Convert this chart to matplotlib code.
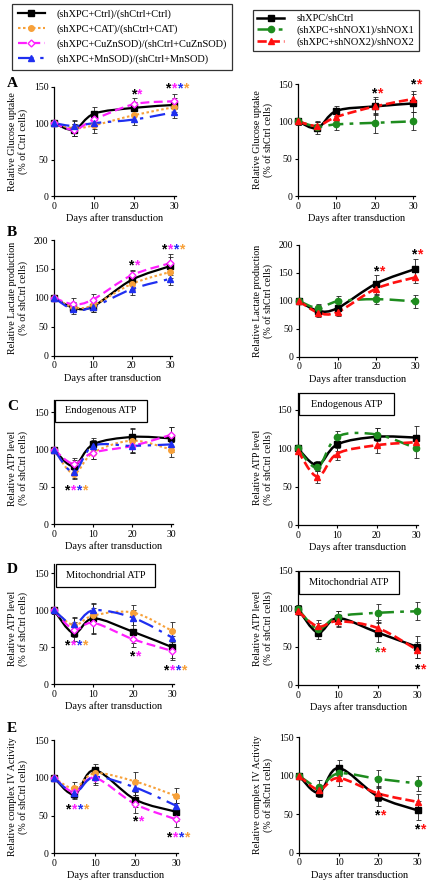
import numpy as np
import matplotlib
matplotlib.use("Agg")
import matplotlib.pyplot as plt
from matplotlib.path import Path
from matplotlib.patches import PathPatch, Rectangle
from matplotlib.lines import Line2D
from matplotlib.legend_handler import HandlerLine2D

plt.rcParams['font.family'] = ['Liberation Serif', 'DejaVu Serif']

days = [0, 5, 10, 20, 30]

# A - glucose uptake
glu_ctrl = [100, 91, 113, 121, 125]
glu_cat = [100, 93, 97, 111, 122]
glu_cuzn = [100, 91, 105, 126, 130]
glu_mn = [100, 96, 100, 105, 115]
glu_ctrl_err = [3, 8, 9, 8, 10]
glu_cat_err = [3, 10, 10, 10, 10]
glu_cuzn_err = [3, 8, 8, 8, 10]
glu_mn_err = [3, 8, 8, 7, 8]
glu_sh = [100, 91, 114, 120, 124]
glu_nox1 = [100, 93, 96, 98, 100]
glu_nox2 = [100, 94, 106, 120, 130]
glu_sh_err = [5, 8, 7, 12, 12]
glu_nox1_err = [5, 6, 7, 13, 12]
glu_nox2_err = [5, 7, 6, 10, 10]

# B - lactate production
lac_ctrl = [100, 83, 85, 131, 155]
lac_cat = [100, 84, 87, 124, 145]
lac_cuzn = [100, 89, 97, 139, 160]
lac_mn = [100, 80, 84, 115, 133]
lac_ctrl_err = [3, 8, 10, 15, 15]
lac_cat_err = [3, 8, 8, 10, 10]
lac_cuzn_err = [3, 10, 10, 10, 15]
lac_mn_err = [3, 8, 8, 10, 10]
lac_sh = [100, 82, 87, 131, 157]
lac_nox1 = [100, 87, 99, 103, 99]
lac_nox2 = [100, 79, 80, 122, 142]
lac_sh_err = [5, 10, 10, 15, 18]
lac_nox1_err = [5, 8, 10, 8, 12]
lac_nox2_err = [5, 8, 8, 10, 10]

# C - endogenous ATP
end_ctrl = [100, 78, 107, 117, 115]
end_cat = [100, 68, 96, 112, 100]
end_cuzn = [100, 81, 96, 105, 120]
end_mn = [100, 70, 105, 105, 107]
end_ctrl_err = [3, 8, 8, 12, 15]
end_cat_err = [3, 8, 8, 15, 10]
end_cuzn_err = [3, 8, 8, 10, 10]
end_mn_err = [3, 8, 8, 10, 10]
end_sh = [100, 78, 105, 115, 114]
end_nox1 = [100, 75, 115, 118, 100]
end_nox2 = [97, 63, 93, 104, 108]
end_sh_err = [3, 6, 8, 12, 15]
end_nox1_err = [3, 5, 8, 8, 12]
end_nox2_err = [3, 8, 8, 10, 10]

# D - mitochondrial ATP
mit_ctrl = [100, 69, 89, 71, 50]
mit_cat = [100, 80, 93, 97, 72]
mit_cuzn = [100, 74, 83, 61, 45]
mit_mn = [100, 81, 100, 90, 63]
mit_ctrl_err = [5, 10, 20, 15, 15]
mit_cat_err = [5, 10, 10, 10, 12]
mit_cuzn_err = [5, 10, 15, 10, 12]
mit_mn_err = [5, 10, 10, 10, 10]
mit_sh = [100, 69, 88, 69, 50]
mit_nox1 = [100, 74, 90, 95, 97]
mit_nox2 = [97, 77, 84, 75, 46]
mit_sh_err = [5, 8, 10, 12, 15]
mit_nox1_err = [5, 8, 8, 12, 12]
mit_nox2_err = [5, 8, 8, 10, 10]

# E - complex IV activity
cox_ctrl = [100, 78, 110, 71, 55]
cox_cat = [100, 86, 106, 95, 76]
cox_cuzn = [100, 81, 100, 65, 45]
cox_mn = [100, 80, 101, 87, 63]
cox_ctrl_err = [3, 6, 8, 10, 12]
cox_cat_err = [3, 8, 8, 12, 10]
cox_cuzn_err = [3, 8, 10, 12, 10]
cox_mn_err = [3, 6, 8, 10, 10]
cox_sh = [100, 78, 110, 73, 55]
cox_nox1 = [100, 86, 103, 96, 90]
cox_nox2 = [100, 82, 97, 77, 66]
cox_sh_err = [3, 6, 10, 12, 12]
cox_nox1_err = [3, 8, 8, 12, 10]
cox_nox2_err = [3, 6, 10, 10, 10]

left_labels = ['(shXPC+Ctrl)/(shCtrl+Ctrl)', '(shXPC+CAT)/(shCtrl+CAT)',
               '(shXPC+CuZnSOD)/(shCtrl+CuZnSOD)', '(shXPC+MnSOD)/(shCtrl+MnSOD)']
right_labels = ['shXPC/shCtrl', '(shXPC+shNOX1)/shNOX1', '(shXPC+shNOX2)/shNOX2']

BLK, ORG, MAG, BLU, GRN, RED = 'black', '#f7a13a', '#ff1fff', '#1f2ff0', '#1e8c1e', '#ff1010'

STY = {
    'ctrl': dict(color=BLK, ls='-', lw=1.6, marker='s', ms=4, mfc=BLK),
    'cat': dict(color=ORG, ls=(0, (1.2, 1.2)), lw=1.5, marker='o', ms=4, mfc=ORG),
    'cuzn': dict(color=MAG, ls=(0, (4, 2)), lw=1.6, marker='D', ms=3.5, mfc='white'),
    'mn': dict(color=BLU, ls=(0, (7, 3, 1.5, 3)), lw=1.6, marker='^', ms=4.5, mfc=BLU),
    'sh': dict(color=BLK, ls='-', lw=1.8, marker='s', ms=4.5, mfc=BLK),
    'nox1': dict(color=GRN, ls=(0, (6, 2.5, 1.5, 2.5)), lw=1.8, marker='o', ms=4.5, mfc=GRN),
    'nox2': dict(color=RED, ls=(0, (3.5, 1.5)), lw=1.9, marker='^', ms=4.5, mfc=RED),
}

W, H = 434, 886
fig = plt.figure(figsize=(W / 100, H / 100), dpi=100)


def rect(l, b, r, t):
    return [l / W, 1 - b / H, (r - l) / W, (b - t) / H]


def smooth(ax, x, y, s):
    # smoothed line like the spreadsheet charts (bezier through the points)
    p = np.column_stack([x, y]).astype(float)
    ext = np.vstack([p[0], p, p[-1]])
    verts, codes = [p[0]], [Path.MOVETO]
    for i in range(len(p) - 1):
        c1 = ext[i + 1] + (ext[i + 2] - ext[i]) / 6
        c2 = ext[i + 2] - (ext[i + 3] - ext[i + 1]) / 6
        verts += [c1, c2, p[i + 1]]
        codes += [Path.CURVE4] * 3
    ax.add_patch(PathPatch(Path(verts, codes), fill=False, edgecolor=s['color'],
                           lw=s['lw'], linestyle=s['ls'], capstyle='butt',
                           transform=ax.transData, zorder=3, clip_on=False))


def draw(ax, series, ylim, yticks, boxinfo=None):
    for y, e, key in series:
        ax.errorbar(days, y, yerr=e, fmt='none', ecolor='#222222', elinewidth=0.6,
                    capsize=1.8, capthick=0.6, zorder=2, clip_on=False)
    for y, e, key in series:
        s = STY[key]
        smooth(ax, days, y, s)
        ax.plot(days, y, ls='none', marker=s['marker'], ms=s['ms'], color=s['color'],
                mfc=s['mfc'], mec=s['color'], mew=1, zorder=4, clip_on=False)
    ax.set_xlim(0, 30.4)
    ax.set_ylim(*ylim)
    ax.set_xticks([0, 10, 20, 30])
    ax.set_yticks(yticks)
    for sp in ['top', 'right']:
        ax.spines[sp].set_visible(False)
    for sp in ['left', 'bottom']:
        ax.spines[sp].set_linewidth(0.9)
    ax.tick_params(direction='out', length=2.5, width=0.8, labelsize=7, pad=1.5)
    ax.set_xlabel('Days after transduction', fontsize=7.5, labelpad=2)
    if boxinfo:
        txt, x0, x1, y0, y1 = boxinfo
        ax.add_patch(Rectangle((x0, y0), x1 - x0, y1 - y0, fill=False, ec='black',
                               lw=0.9, clip_on=False, zorder=5))
        ax.text((x0 + x1) / 2, (y0 + y1) / 2, txt, ha='center', va='center',
                fontsize=7.5, zorder=6)


def stars(ax, x, y, cols):
    n = len(cols)
    for i, c in enumerate(cols):
        ax.annotate('*', (x, y), xytext=(1.4 + (i - (n - 1) / 2) * 4.3, -4.5),
                    textcoords='offset points', ha='center', va='baseline',
                    color=c, fontsize=10, family='Liberation Sans',
                    fontweight='bold', annotation_clip=False, zorder=7)


def ylab(xpx, ax, ytop, text):
    y0, y1 = ax.get_ylim()
    pos = ax.get_position()
    yc = pos.y0 + pos.height * (ytop / 2 - y0) / (y1 - y0)
    fig.text(xpx / W, yc, text, rotation=90, ha='center', va='center',
             fontsize=7.2, multialignment='center', linespacing=1.25)


L4 = [BLK, MAG, BLU, ORG]

# ---- A ----
ax = fig.add_axes(rect(54, 196, 176, 86.7))
draw(ax, [(glu_ctrl, glu_ctrl_err, 'ctrl'), (glu_cat, glu_cat_err, 'cat'),
          (glu_cuzn, glu_cuzn_err, 'cuzn'), (glu_mn, glu_mn_err, 'mn')],
     (0, 150), [0, 50, 100, 150])
stars(ax, 20, 143, [BLK, MAG])
stars(ax, 30, 150, L4)
ylab(18, ax, 150, 'Relative Glucose uptake\n(% of Ctrl cells)')

ax = fig.add_axes(rect(298, 196, 415, 84))
draw(ax, [(glu_sh, glu_sh_err, 'sh'), (glu_nox1, glu_nox1_err, 'nox1'),
          (glu_nox2, glu_nox2_err, 'nox2')], (0, 150), [0, 50, 100, 150])
stars(ax, 20, 141, [BLK, RED])
stars(ax, 30, 152, [BLK, RED])
ylab(263, ax, 150, 'Relative Glucose uptake\n(% of shCtrl cells)')

# ---- B ----
ax = fig.add_axes(rect(54, 355.7, 172, 240))
draw(ax, [(lac_ctrl, lac_ctrl_err, 'ctrl'), (lac_cat, lac_cat_err, 'cat'),
          (lac_cuzn, lac_cuzn_err, 'cuzn'), (lac_mn, lac_mn_err, 'mn')],
     (0, 200), [0, 50, 100, 150, 200])
stars(ax, 20, 160, [BLK, MAG])
stars(ax, 30, 187, L4)
ylab(18, ax, 200, 'Relative Lactate production\n(% of shCtrl cells)')

ax = fig.add_axes(rect(298.7, 356.7, 416.7, 245))
draw(ax, [(lac_sh, lac_sh_err, 'sh'), (lac_nox1, lac_nox1_err, 'nox1'),
          (lac_nox2, lac_nox2_err, 'nox2')], (0, 200), [0, 50, 100, 150, 200])
stars(ax, 20, 157, [BLK, RED])
stars(ax, 30, 187, [BLK, RED])
ylab(263, ax, 200, 'Relative Lactate production\n(% of shCtrl cells)')

# ---- C ----
ax = fig.add_axes(rect(54, 524.3, 173, 399.6))
draw(ax, [(end_ctrl, end_ctrl_err, 'ctrl'), (end_cat, end_cat_err, 'cat'),
          (end_cuzn, end_cuzn_err, 'cuzn'), (end_mn, end_mn_err, 'mn')],
     (0, 167), [0, 50, 100, 150], ('Endogenous ATP', 0.3, 23.7, 137.5, 166.5))
stars(ax, 5, 48, L4)
ylab(18, ax, 150, 'Relative ATP level\n(% of shCtrl cells)')

ax = fig.add_axes(rect(297.7, 525, 417.7, 393.1))
draw(ax, [(end_sh, end_sh_err, 'sh'), (end_nox1, end_nox1_err, 'nox1'),
          (end_nox2, end_nox2_err, 'nox2')], (0, 172), [0, 50, 100, 150],
     ('Endogenous ATP', 0.3, 24.5, 143, 172))
ylab(263, ax, 150, 'Relative ATP level\n(% of shCtrl cells)')

# ---- D ----
ax = fig.add_axes(rect(54, 684.3, 174, 564.4))
draw(ax, [(mit_ctrl, mit_ctrl_err, 'ctrl'), (mit_cat, mit_cat_err, 'cat'),
          (mit_cuzn, mit_cuzn_err, 'cuzn'), (mit_mn, mit_mn_err, 'mn')],
     (0, 162), [0, 50, 100, 150], ('Mitochondrial ATP', 0.4, 25.6, 132, 162))
stars(ax, 5, 55, L4)
stars(ax, 20, 41, [BLK, MAG])
stars(ax, 30, 22, L4)
ylab(18, ax, 150, 'Relative ATP level\n(% of shCtrl cells)')

ax = fig.add_axes(rect(298, 685, 419, 571))
draw(ax, [(mit_sh, mit_sh_err, 'sh'), (mit_nox1, mit_nox1_err, 'nox1'),
          (mit_nox2, mit_nox2_err, 'nox2')], (0, 150), [0, 50, 100, 150],
     ('Mitochondrial ATP', 0.2, 25.3, 120, 150))
stars(ax, 20, 46, [GRN, RED])
stars(ax, 30, 24, [BLK, RED])
ylab(263, ax, 150, 'Relative ATP level\n(% of shCtrl cells)')

# ---- E ----
ax = fig.add_axes(rect(54, 853.3, 177.7, 740))
draw(ax, [(cox_ctrl, cox_ctrl_err, 'ctrl'), (cox_cat, cox_cat_err, 'cat'),
          (cox_cuzn, cox_cuzn_err, 'cuzn'), (cox_mn, cox_mn_err, 'mn')],
     (0, 150), [0, 50, 100, 150])
stars(ax, 5, 61, L4)
stars(ax, 20, 45, [BLK, MAG])
stars(ax, 30, 24, L4)
ylab(18, ax, 150, 'Relative complex IV Activity\n(% of shCtrl cells)')

ax = fig.add_axes(rect(299, 852.7, 419.3, 737.3))
draw(ax, [(cox_sh, cox_sh_err, 'sh'), (cox_nox1, cox_nox1_err, 'nox1'),
          (cox_nox2, cox_nox2_err, 'nox2')], (0, 150), [0, 50, 100, 150])
stars(ax, 20, 51, [BLK, RED])
stars(ax, 30, 33, [BLK, RED])
ylab(263, ax, 150, 'Relative complex IV Activity\n(% of shCtrl cells)')

# panel letters
for letter, ypx in zip('ABCDE', [87, 236, 410, 573, 732]):
    fig.text(7 / W, 1 - ypx / H, letter, fontsize=11, fontweight='bold',
             ha='left', va='baseline')


# legends with the marker at the end of the line
class EndMarker(HandlerLine2D):
    def get_xdata(self, legend, xdescent, ydescent, width, height, fontsize):
        xd = np.array([-xdescent, -xdescent + width])
        return xd, np.array([-xdescent + width * 0.92])


def handle(key):
    s = STY[key]
    return Line2D([], [], color=s['color'], ls=s['ls'], lw=s['lw'], marker=s['marker'],
                  ms=s['ms'], mfc=s['mfc'], mec=s['color'])


leg = fig.legend([handle(k) for k in ['ctrl', 'cat', 'cuzn', 'mn']], left_labels,
                 loc='upper left', bbox_to_anchor=(12 / W, 1 - 4 / H), fontsize=7.5,
                 frameon=True, fancybox=False, edgecolor='black', borderaxespad=0,
                 handlelength=2.6, handletextpad=1.1, labelspacing=0.5,
                 borderpad=0.55, numpoints=1, handler_map={Line2D: EndMarker()})
leg.get_frame().set_linewidth(0.9)

leg2 = fig.legend([handle(k) for k in ['sh', 'nox1', 'nox2']], right_labels,
                  loc='upper left', bbox_to_anchor=(253 / W, 1 - 10 / H), fontsize=7.5,
                  frameon=True, fancybox=False, edgecolor='black', borderaxespad=0,
                  handlelength=2.6, handletextpad=1.2, labelspacing=0.2,
                  borderpad=0.4, numpoints=1, handler_map={Line2D: EndMarker()})
leg2.get_frame().set_linewidth(0.9)

fig.savefig('out.png', dpi=100)
